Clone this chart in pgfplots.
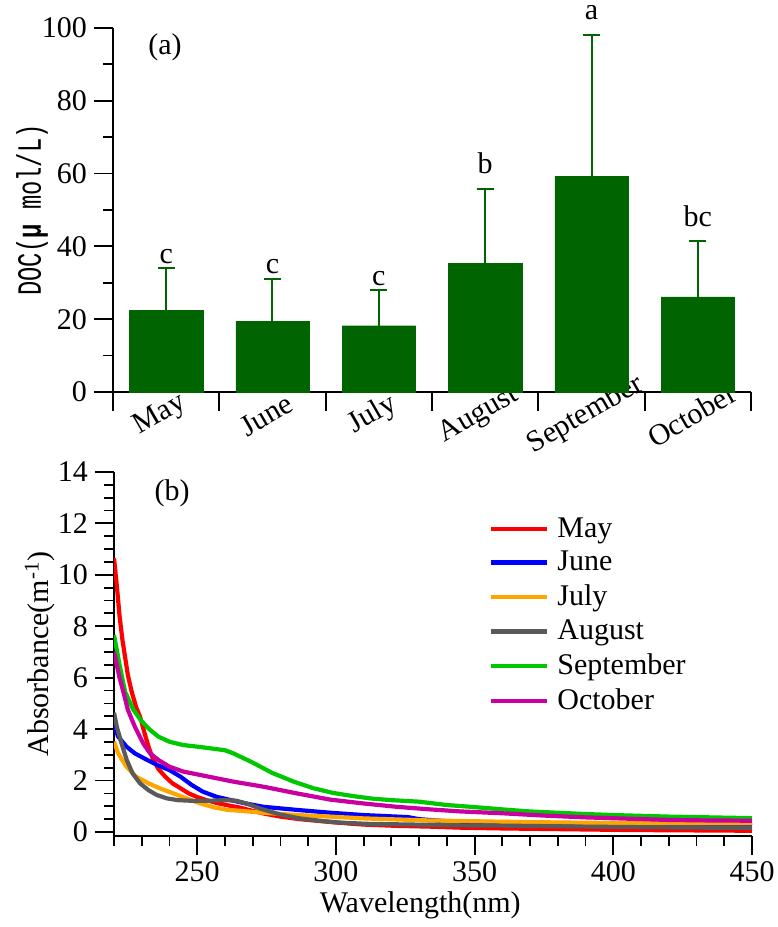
\documentclass[border=0pt]{standalone}
\usepackage{fontspec}
\setmainfont{Liberation Serif}
\newfontfamily\simfont[FakeStretch=0.7]{Liberation Mono}
\usepackage{pgfplots}
\usepackage{pgfplotstable}
\pgfplotsset{compat=1.18}

\definecolor{bargreen}{RGB}{0,100,0}
\definecolor{cmay}{RGB}{255,0,0}
\definecolor{cjun}{RGB}{0,0,255}
\definecolor{cjul}{RGB}{255,165,0}
\definecolor{caug}{RGB}{90,90,90}
\definecolor{csep}{RGB}{0,200,0}
\definecolor{coct}{RGB}{200,0,160}

% DOC per month: mean, upper error, height of the letter, letter
\pgfplotstableread{
x  y     err   top    lbl
0  22.5  11.5  35.4   c
1  19.5  11.6  32.5   c
2  18.2  9.9   29.2   c
3  35.3  20.6  60.0   b
4  59.2  39.0  102.2  a
5  26.1  15.5  45.4   bc
}\doctable

\pgfplotsset{
  panel/.style={
    scale only axis, width=319pt, height=182pt,
    axis x line=bottom, axis y line=left,
    axis line style={-, line width=0.9pt},
    every tick/.style={black, line width=0.9pt},
    tick align=outside,
    major tick length=9.5pt, minor tick length=5pt,
    tick label style={font=\fontsize{15}{18}\selectfont},
    /pgf/number format/assume math mode=true,
  },
}

\begin{document}
\begin{tikzpicture}

% (a) DOC bars
\begin{axis}[panel,
  at={(56.5pt,267.5pt)}, anchor=south west,
  xmin=-0.5, xmax=5.5, ymin=0, ymax=100,
  ytick={0,20,...,100}, minor ytick={10,30,...,90},
  xtick={-0.5,0.5,...,5.5}, xticklabels={},
  extra x ticks={0,1,2,3,4,5},
  extra x tick labels={May,June,July,August,September,October},
  extra x tick style={major tick length=0pt,
    xticklabel style={anchor=center, xshift=-3pt, yshift=-11.5pt, rotate=30}},
  every axis y label/.style={at={(axis description cs:-0.127,0.5)}, rotate=90, anchor=center},
  ylabel={\fontsize{17}{18}\simfont DOC(\textbf{μ} mol/L)},
  clip=false,
]
\addplot[ybar, bar width=0.69, fill=bargreen, draw=bargreen, line width=0.2pt,
  error bars/.cd, y dir=plus, y explicit, error mark=|,
  error bar style={draw=bargreen, line width=1pt},
  error mark options={draw=bargreen, line width=1pt, mark size=4.25pt}]
  table[x=x, y=y, y error=err] {\doctable};
\addplot[draw=none, mark=none, nodes near coords, point meta=explicit symbolic,
  nodes near coords style={anchor=base, font=\fontsize{15}{18}\selectfont, inner sep=0pt}]
  table[x=x, y=top, meta=lbl] {\doctable};
\node[font=\fontsize{15}{18}\selectfont] at (axis description cs:0.0815,0.948) {(a)};
\end{axis}

% (b) absorbance spectra
\begin{axis}[panel,
  at={(57pt,45.55pt)}, anchor=south west,
  xmin=220, xmax=450, ymin=-0.15, ymax=14,
  xtick={250,300,...,450}, minor xtick={220,230,...,450},
  ytick={0,2,...,14}, minor ytick={0,0.5,...,14},
  xlabel={Wavelength(nm)},
  every axis x label/.style={at={(axis description cs:0.48,0)}, anchor=center, yshift=-34.5pt,
    font=\fontsize{15}{18}\selectfont},
  ylabel={Absorbance(m\textsuperscript{-1})},
  every axis y label/.style={at={(axis description cs:-0.116,0.5)}, rotate=90, anchor=center,
    font=\fontsize{15}{18}\selectfont},
  legend style={draw=none, fill=none, at={(axis description cs:0.578,0.898)}, anchor=north west,
    font=\fontsize{15}{17}\selectfont, row sep=1.6pt, column sep=2pt},
  legend cell align=left,
  legend image code/.code={\draw[#1] (0pt,0pt) -- (28pt,0pt);},
  every axis plot/.append style={line width=2.1pt, line join=round, mark=none},
]
\addplot[cmay] coordinates {
(220,10.65) (221,9.6) (222,8.4) (223,7.5) (224,6.8) (225,6.1) (226.5,5.4) (228,4.85)
(229.5,4.45) (231,3.85) (232.5,3.3) (234,2.85) (236,2.45) (238.5,2.15) (241,1.9)
(244,1.7) (247,1.5) (250,1.36) (253,1.25) (257,1.13) (261,1.04) (265,0.96) (269,0.85)
(274,0.72) (280,0.6) (287,0.5) (294,0.43) (300,0.37) (310,0.29) (322,0.24) (334,0.21)
(345,0.17) (360,0.14) (375,0.12) (390,0.1) (405,0.08) (420,0.07) (435,0.06) (450,0.05)};
\addplot[cjun] coordinates {
(220,4.16) (221.5,3.71) (224.5,3.32) (227.5,3.06) (232,2.8) (235.5,2.61) (240,2.41)
(244,2.15) (248,1.83) (252,1.57) (257,1.37) (263,1.22) (268,1.1) (274,0.98) (286,0.86)
(298,0.75) (310,0.66) (322,0.6) (326,0.58) (330,0.5) (340,0.42) (350,0.38) (370,0.34)
(390,0.32) (410,0.3) (430,0.29) (450,0.28)};
\addplot[cjul] coordinates {
(220,3.51) (221.5,3.06) (224.5,2.54) (228,2.15) (232.5,1.89) (236.5,1.7) (241.5,1.5)
(246,1.31) (251,1.12) (256,0.96) (261,0.86) (265,0.83) (274,0.75) (286,0.66) (298,0.6)
(310,0.53) (322,0.49) (334,0.45) (350,0.42) (360,0.4) (375,0.38) (390,0.36) (420,0.34)
(450,0.34)};
\addplot[caug] coordinates {
(220,4.64) (221,4.1) (222.7,3.45) (224.6,2.8) (226.7,2.28) (229.4,1.89) (232.4,1.63)
(235.4,1.44) (239,1.31) (243,1.24) (249,1.21) (255,1.22) (260,1.24) (264,1.22)
(268,1.1) (273,0.9) (280,0.68) (287,0.53) (294,0.44) (301,0.37) (311,0.32) (322,0.3)
(334,0.28) (345,0.26) (360,0.25) (390,0.21) (420,0.18) (450,0.16)};
\addplot[csep] coordinates {
(220,7.66) (222,6.5) (224,5.45) (227,4.75) (230,4.3) (233,3.97) (236,3.71) (240,3.51)
(245,3.38) (250,3.32) (255,3.25) (260,3.18) (263,3.06) (270,2.7) (277,2.3) (285,1.95)
(292,1.7) (299,1.52) (306,1.4) (313,1.3) (320,1.24) (330,1.18) (340,1.05) (350,0.97)
(360,0.88) (370,0.8) (380,0.75) (390,0.7) (400,0.66) (410,0.63) (420,0.6) (430,0.58)
(440,0.56) (450,0.54)};
\addplot[coct] coordinates {
(220,7.0) (222,6.0) (223.5,5.4) (225,4.75) (227.5,4.1) (230.5,3.45) (233,3.06)
(236,2.8) (240,2.54) (245,2.35) (251,2.22) (257,2.09) (263,1.96) (274,1.76) (286,1.5)
(298,1.26) (310,1.11) (322,0.98) (334,0.88) (345,0.8) (360,0.73) (375,0.64) (390,0.57)
(405,0.52) (420,0.47) (435,0.45) (450,0.44)};
\legend{May,June,July,August,September,October}
\node[font=\fontsize{15}{18}\selectfont] at (axis description cs:0.091,0.942) {(b)};
\end{axis}

\pgfresetboundingbox
\useasboundingbox (0,0) rectangle (388.5pt,463.5pt);
\end{tikzpicture}
\end{document}
